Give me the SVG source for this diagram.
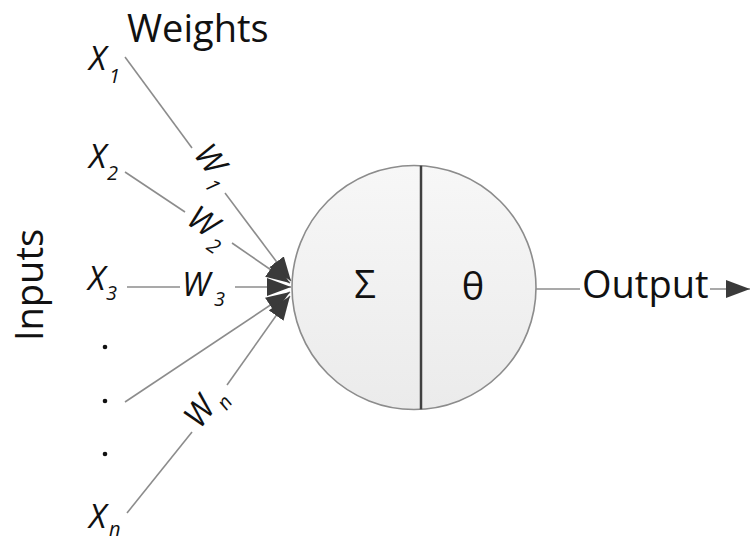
<svg xmlns="http://www.w3.org/2000/svg" width="750" height="543" viewBox="0 0 750 543">
<style>
text{font-family:"Open Sans","Liberation Sans",sans-serif;fill:#111}
.lbl{font-size:38px}
.it{font-style:italic;font-size:33px}
.sub{font-style:italic;font-size:20px}
.ln{stroke:#8c8c8c;stroke-width:1.6;fill:none}
</style>
<defs>
<marker id="ah" markerUnits="userSpaceOnUse" markerWidth="26" markerHeight="20" refX="24" refY="9" orient="auto">
<path d="M0,0 L24,9 L0,18 Z" fill="#3a3a3a"/>
</marker>
<linearGradient id="g" x1="0" y1="0" x2="0" y2="1">
<stop offset="0" stop-color="#f7f7f7"/>
<stop offset="1" stop-color="#ebebeb"/>
</linearGradient>
</defs>
<g id="connectors">
<line class="ln" x1="125" y1="57" x2="192" y2="148"/>
<line class="ln" x1="225" y1="193" x2="291" y2="281" marker-end="url(#ah)"/>
<line class="ln" x1="125" y1="172" x2="185" y2="212"/>
<line class="ln" x1="232" y1="243" x2="290" y2="283" marker-end="url(#ah)"/>
<line class="ln" x1="127" y1="287" x2="180" y2="287"/>
<line class="ln" x1="235" y1="287" x2="291" y2="287" marker-end="url(#ah)"/>
<line class="ln" x1="125" y1="402" x2="290" y2="292" marker-end="url(#ah)"/>
<line class="ln" x1="127" y1="513" x2="192" y2="432"/>
<line class="ln" x1="227" y1="385" x2="290" y2="296" marker-end="url(#ah)"/>
<line class="ln" x1="536" y1="289" x2="580" y2="289"/>
<line class="ln" x1="710" y1="289" x2="750" y2="289" marker-end="url(#ah)"/>
</g>
<g id="neuron">
<circle cx="414" cy="287.5" r="122" fill="url(#g)" stroke="#8c8c8c" stroke-width="1.6"/>
<line x1="421" y1="165.7" x2="421" y2="409.3" stroke="#404040" stroke-width="2.5"/>
<text class="lbl" x="365" y="298" text-anchor="middle">Σ</text>
<text class="lbl" x="473" y="300" text-anchor="middle">θ</text>
</g>
<g id="weights-title"><text class="lbl" x="127" y="42">Weights</text></g>
<g id="inputs-title"><text class="lbl" transform="translate(43,285) rotate(-90)" text-anchor="middle">Inputs</text></g>
<g id="x1"><text class="it" x="89" y="70">X</text><text class="sub" x="109" y="83">1</text></g>
<g id="x2"><text class="it" x="89" y="168">X</text><text class="sub" x="107" y="180">2</text></g>
<g id="x3"><text class="it" x="88" y="290">X</text><text class="sub" x="106" y="300">3</text></g>
<g id="xn"><text class="it" x="89" y="528">X</text><text class="sub" x="109" y="536">n</text></g>
<g id="dots" fill="#111">
<circle cx="105" cy="347" r="2.3"/>
<circle cx="105" cy="401" r="2.3"/>
<circle cx="105" cy="454" r="2.3"/>
</g>
<g id="w1" transform="translate(212,160) rotate(53)"><text class="it" x="-16" y="12">W</text><text class="sub" x="15" y="22">1</text></g>
<g id="w2" transform="translate(205,222) rotate(34)"><text class="it" x="-16" y="12">W</text><text class="sub" x="15" y="22">2</text></g>
<g id="w3"><text class="it" x="182" y="296">W</text><text class="sub" x="214" y="306">3</text></g>
<g id="wn" transform="translate(200,410) rotate(-53)"><text class="it" x="-16" y="12">W</text><text class="sub" x="15" y="22">n</text></g>
<g id="output"><text class="lbl" x="582" y="298">Output</text></g>
</svg>
